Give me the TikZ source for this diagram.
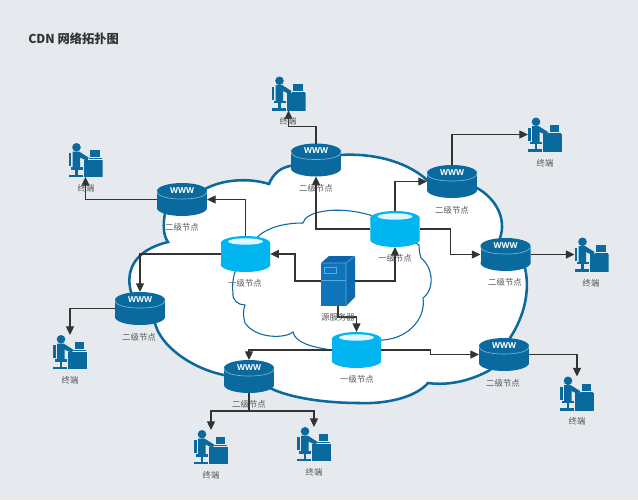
\documentclass[tikz,border=0pt]{standalone}
\usepackage{fontspec}
\setmainfont{Noto Sans CJK SC}
\newfontfamily\wwwfont{Open Sans}
\usepackage{xcolor}
\definecolor{paper_grey}{RGB}{230, 233, 237}
\definecolor{net_blue}{RGB}{10, 106, 158}
\definecolor{net_line}{RGB}{110, 185, 220}
\definecolor{node_cyan}{RGB}{0, 181, 240}
\definecolor{node_top}{RGB}{225, 246, 253}
\definecolor{srv_front}{RGB}{15, 116, 188}
\definecolor{srv_top}{RGB}{12, 100, 170}
\definecolor{srv_side}{RGB}{14, 106, 176}
\definecolor{srv_line}{RGB}{90, 170, 225}
\definecolor{link_dark}{RGB}{51, 51, 51}
\definecolor{text_grey}{RGB}{85, 85, 85}
\usetikzlibrary{arrows.meta}
\tikzset{
  wwwbox/.style={minimum width=37.5pt, minimum height=24.75pt, inner sep=0pt, outer sep=0pt,
    path picture={
        \fill[net_blue] (-25,-8.5) rectangle (25,8.5);
        \fill[net_blue] (0,-8.5) ellipse [x radius=25, y radius=8];
        \fill[net_blue] (0,8.5) ellipse [x radius=25, y radius=8];
        \draw[net_line, line width=0.5pt] (-25,-8.5) .. controls (-25,-3) and (-14,-0.5) .. (0,-0.5) .. controls (14,-0.5) and (25,-3) .. (25,-8.5);
        \node[text=white, font=\wwwfont\bfseries\fontsize{6.2}{7}\selectfont] at (0,-9) {WWW};
    }},
  cachebox/.style={minimum width=37pt, minimum height=27pt, inner sep=0pt, outer sep=0pt,
    path picture={
        \fill[node_cyan] (-25,-10) rectangle (25,10);
        \fill[node_cyan] (0,-10.5) ellipse [x radius=25, y radius=7.5];
        \fill[node_cyan] (0,10.5) ellipse [x radius=25, y radius=7.5];
        \fill[node_top] (0,-12.5) ellipse [x radius=17.5, y radius=3.2];
    }},
  srvbox/.style={minimum width=25.5pt, minimum height=37.5pt, inner sep=0pt, outer sep=0pt,
    path picture={
        \fill[srv_top] (-17,-18) -- (-9,-25) -- (17,-25) -- (8,-18) -- cycle;
        \fill[srv_side] (8,-18) -- (17,-25) -- (17,16) -- (8,25) -- cycle;
        \fill[srv_front] (-17,-18) rectangle (8,25);
        \draw[srv_line, line width=0.4pt] (-17,-18) -- (8,-18) -- (17,-25) (8,-18) -- (8,25);
        \draw[srv_line, line width=0.4pt] (-17,-1) -- (8,-1);
        \draw[srv_line, line width=0.4pt] (-14,-14) rectangle (-2,-8);
    }},
  userbox/.style={minimum width=25.5pt, minimum height=25.5pt, inner sep=0pt, outer sep=0pt,
    path picture={
        \fill[net_blue] (-9,-12.7) circle [radius=4.3];
        \fill[net_blue] (-17,-7) rectangle (-14.3,6);
        \fill[net_blue] (-13,-8.5) -- (-6.5,-8.5) -- (3,-2.5) -- (2,1) -- (-5.5,-2.5) -- (-5.5,8) -- (-13,8) -- cycle;
        \fill[net_blue] (-15,7) rectangle (-3,9.5);
        \fill[net_blue] (-10.3,9) rectangle (-8,15);
        \fill[net_blue] (-16.7,14.7) rectangle (-2.7,17);
        \fill[net_blue] (-1.7,-0.3) rectangle (17,17);
        \fill[net_blue] (4.5,-9.8) rectangle (14,-3);
        \fill[net_blue] (3,-2) rectangle (16,-1);
    }},
  link/.style={draw=link_dark, line width=0.95pt, -{Triangle[length=6.5pt, width=6pt]}},
  tag/.style={text=text_grey, inner sep=0pt, font=\fontsize{6.3}{7}\selectfont}
}

\begin{document}
\begin{tikzpicture}[x=0.75pt, y=-0.75pt]
    % Background
    \useasboundingbox (0,0) rectangle (638,500);
    \fill[paper_grey] (0,0) rectangle (638,500);
    \node[anchor=west, inner sep=0pt, text=black!80, font=\bfseries\fontsize{9.2}{11}\selectfont] (title) at (28,39) {CDN 网络拓扑图};

    % Outer cloud
    \draw[draw=net_blue, line width=1.9pt, fill=white] (207,188) .. controls (225,179) and (250,178) .. (269,184)
        .. controls (273,174) and (280,168) .. (290,166) -- (340,155)
        .. controls (370,153) and (405,160) .. (427,180) -- (477,188)
        .. controls (495,198) and (507,218) .. (500,238) -- (525,268)
        .. controls (530,290) and (525,315) .. (510,338) -- (490,370)
        .. controls (472,380) and (450,386) .. (428,383)
        .. controls (415,398) and (385,404) .. (360,403)
        .. controls (325,403) and (290,398) .. (270,388) -- (224,375)
        .. controls (190,368) and (160,345) .. (155,323) -- (131,292)
        .. controls (125,270) and (135,250) .. (168,242)
        .. controls (163,235) and (163,225) .. (165,213) -- cycle;

    % Inner cloud
    \draw[draw=net_blue, line width=0.8pt] (253,242) .. controls (263,228) and (283,223) .. (303,223)
        .. controls (305,212) and (335,205) .. (370,215) -- (419,245)
        .. controls (419,250) and (420,255) .. (421,258)
        .. controls (432,266) and (436,288) .. (423,298)
        .. controls (426,317) and (410,338) .. (383,340) -- (332,350)
        .. controls (310,347) and (295,342) .. (293,332)
        .. controls (287,338) and (257,340) .. (245,323)
        .. controls (243,316) and (243,310) .. (245,305)
        .. controls (238,305) and (232,300) .. (233,293)
        .. controls (232,285) and (233,278) .. (235,272) -- cycle;

    % Source server and first level
    \node[srvbox] (server) at (338,281) {};
    \node[cachebox] (cacheL) at (245.5,254) {};
    \node[cachebox] (cacheT) at (395,229) {};
    \node[cachebox] (cacheB) at (356.5,350) {};

    % Second level
    \node[wwwbox] (wwwA) at (316,160) {};
    \node[wwwbox] (wwwB) at (182,199.5) {};
    \node[wwwbox] (wwwC) at (452,181.5) {};
    \node[wwwbox] (wwwD) at (505.5,254.5) {};
    \node[wwwbox] (wwwE) at (140,308.5) {};
    \node[wwwbox] (wwwF) at (249,376.5) {};
    \node[wwwbox] (wwwG) at (504,354.5) {};

    % Terminals
    \node[userbox] (userA) at (288.5,93.5) {};
    \node[userbox] (userB) at (85.5,160) {};
    \node[userbox] (userC) at (545,134.5) {};
    \node[userbox] (userD) at (591.5,254.5) {};
    \node[userbox] (userE) at (70,352) {};
    \node[userbox] (userF) at (211,447) {};
    \node[userbox] (userG) at (314,444) {};
    \node[userbox] (userH) at (577,393.5) {};

    % Arrows
    \draw[link] (server.west) -- ++(-26,0) |- (cacheL.east);
    \draw[link] (server.east) -| (cacheT.south);
    \draw[link] (server.south) -- ++(0,11) -| (cacheB.north);
    \draw[link] (cacheL.north) |- (wwwB.east);
    \draw[link] (cacheL.west) -| (wwwE.north);
    \draw[link] (cacheT.west) -| (wwwA.south);
    \draw[link] (cacheT.north) |- (wwwC.west);
    \draw[link] (cacheT.east) -- ++(31,0) |- (wwwD.west);
    \draw[link] (cacheB.west) -| (wwwF.north);
    \draw[link] (cacheB.east) -- ++(49,0) |- (wwwG.west);
    \draw[link] (wwwA.north) -- ++(0,-17) -| (userA.south);
    \draw[link] (wwwB.west) -| (userB.south);
    \draw[link] (wwwC.north) |- (userC.west);
    \draw[link] (wwwD.east) -- (userD.west);
    \draw[link] (wwwE.west) -| (userE.north);
    \draw[link] (wwwF.south) -- ++(0,18) coordinate (fork) -| (userF.north);
    \draw[link] (fork) -| (userG.north);
    \draw[link] (wwwG.east) -| (userH.north);

    % Labels
    \node[tag] (serverTag) at (338,317) {源服务器};
    \node[tag] (cacheLTag) at (245,283) {一级节点};
    \node[tag] (cacheTTag) at (395,258) {一级节点};
    \node[tag] (cacheBTag) at (357,379) {一级节点};
    \node[tag] (wwwATag) at (316,188) {二级节点};
    \node[tag] (wwwBTag) at (182,227) {二级节点};
    \node[tag] (wwwCTag) at (452,210) {二级节点};
    \node[tag] (wwwDTag) at (505,282) {二级节点};
    \node[tag] (wwwETag) at (139,337) {二级节点};
    \node[tag] (wwwFTag) at (249,404) {二级节点};
    \node[tag] (wwwGTag) at (503,383) {二级节点};
    \node[tag] (userATag) at (288,121) {终端};
    \node[tag] (userBTag) at (86,188) {终端};
    \node[tag] (userCTag) at (545,163) {终端};
    \node[tag] (userDTag) at (591,283) {终端};
    \node[tag] (userETag) at (70,380) {终端};
    \node[tag] (userFTag) at (211,475) {终端};
    \node[tag] (userGTag) at (314,472) {终端};
    \node[tag] (userHTag) at (577,421) {终端};
\end{tikzpicture}
\end{document}
